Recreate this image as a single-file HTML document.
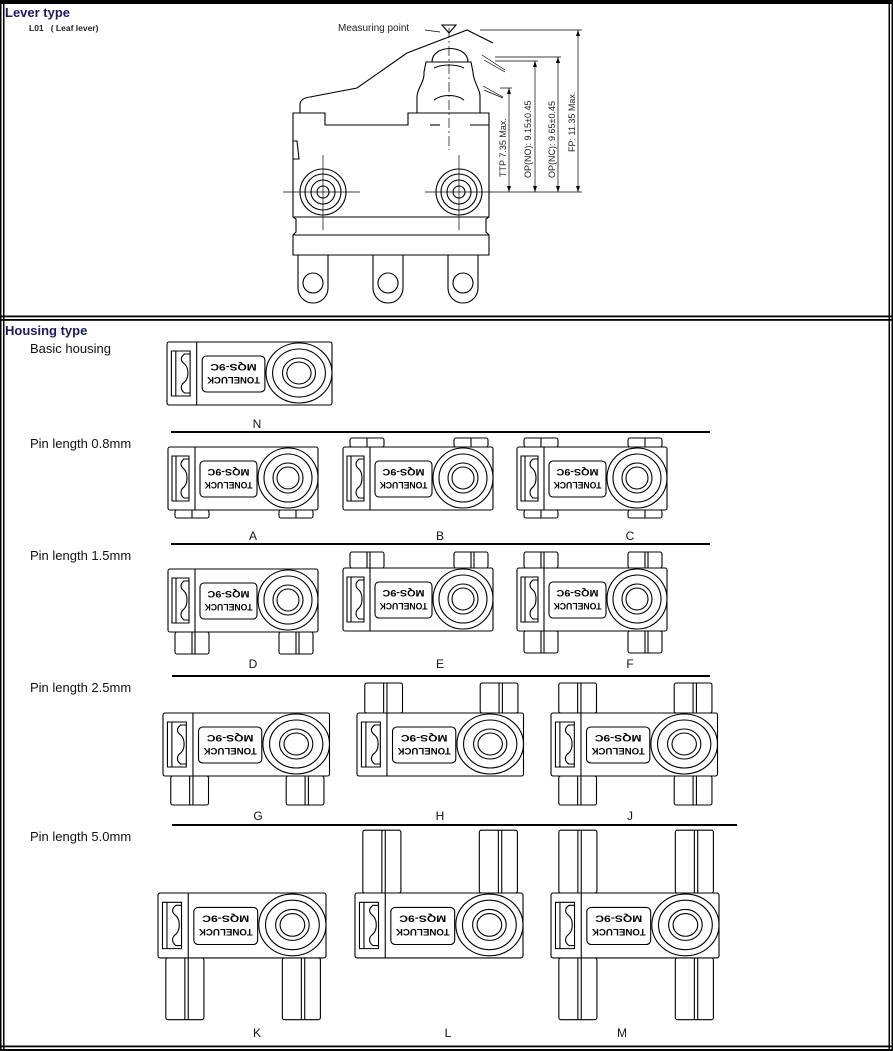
<!DOCTYPE html>
<html><head><meta charset="utf-8"><style>
html,body{margin:0;padding:0;background:#fff}
svg{display:block}
svg *{vector-effect:non-scaling-stroke}
.s{fill:none;stroke:#000;stroke-width:1.1}
.t{font-family:"Liberation Sans",sans-serif}
</style></head><body>
<svg width="893" height="1051" viewBox="0 0 893 1051" xmlns="http://www.w3.org/2000/svg">
<rect x="0" y="0" width="893" height="1051" fill="#fff"/>
<!-- frame -->
<rect x="0" y="0" width="893" height="4" fill="#000"/>
<rect x="0" y="0" width="1.5" height="1051" fill="#000"/>
<rect x="3" y="0" width="1.5" height="1051" fill="#000"/>
<rect x="888.5" y="0" width="1.5" height="1051" fill="#000"/>
<rect x="891.5" y="0" width="1.5" height="1051" fill="#000"/>
<rect x="0" y="315.5" width="893" height="1.8" fill="#000"/>
<rect x="0" y="319" width="893" height="1.8" fill="#000"/>
<rect x="0" y="1045.5" width="893" height="1.8" fill="#000"/>
<rect x="0" y="1049" width="893" height="2" fill="#000"/>

<text class="t" x="5" y="17" font-size="13" font-weight="bold" fill="#1e1a60">Lever type</text>
<text class="t" x="29" y="31" font-size="8.5" font-weight="bold" fill="#222" xml:space="preserve">L01   ( Leaf lever)</text>
<text class="t" x="5" y="335" font-size="13" font-weight="bold" fill="#1e1a60">Housing type</text>
<text class="t" x="30" y="353" font-size="13" fill="#111">Basic housing</text>
<text class="t" x="30" y="448" font-size="13" fill="#111">Pin length 0.8mm</text>
<text class="t" x="30" y="560" font-size="13" fill="#111">Pin length 1.5mm</text>
<text class="t" x="30" y="692" font-size="13" fill="#111">Pin length 2.5mm</text>
<text class="t" x="30" y="841" font-size="13" fill="#111">Pin length 5.0mm</text>

<!-- top drawing -->
<g class="s">
<path d="M293,113 L325,113 L325,125 L408,125 L408,113 L489,113 L489,217 L486,219 L486,232 L489,235 L489,255 L293,255 L293,235 L296,232 L296,219 L293,217 Z"/>
<line x1="293" y1="217" x2="489" y2="217"/>
<line x1="293" y1="235" x2="489" y2="235"/>
<line x1="430" y1="125" x2="440" y2="125"/><line x1="470" y1="125" x2="489" y2="125"/>
<path d="M293,141 l4,0 l2,18 l-6,0"/>
<path d="M417,113 L417,97 C417,88 425,82 424,72 L426,62 L471,62 L473,72 C473,82 481,90 480,98 L480,113"/>
<path d="M432,62 C432,44 468,44 468,62"/>
<path d="M434,68 C442,64 456,64 464,68"/><path d="M434,100 C442,94 456,94 464,100"/>
<path d="M300,113 L300,104 Q301,98 310,97 L357,88 L407,53 L467,30 L493,43"/>
<path d="M482,55 L505,70 M484,60 L505,72 M483,86 L503,97 M484,90 L503,98" stroke-width="0.7"/>
<path d="M298,255 L298,288 A15,15 0 0 0 328,288 L328,255 M373,255 L373,288 A15,15 0 0 0 403,288 L403,255 M448,255 L448,288 A15,15 0 0 0 478,288 L478,255"/>
<circle cx="313" cy="283" r="10"/><circle cx="388" cy="283" r="10"/><circle cx="463" cy="283" r="10"/>
<circle cx="323" cy="192" r="23"/><circle cx="323" cy="192" r="18"/><circle cx="323" cy="192" r="12"/><circle cx="323" cy="192" r="6"/>
<circle cx="459" cy="192" r="23"/><circle cx="459" cy="192" r="18"/><circle cx="459" cy="192" r="12"/><circle cx="459" cy="192" r="6"/>
<g stroke-width="0.7">
<line x1="283" y1="192" x2="360" y2="192"/><line x1="323" y1="155" x2="323" y2="230"/>
<line x1="425" y1="192" x2="582" y2="192"/><line x1="459" y1="155" x2="459" y2="230"/>
<line x1="449" y1="28" x2="449" y2="150" stroke-dasharray="10,3,2,3"/>
<line x1="500" y1="88" x2="512" y2="88"/><line x1="495" y1="61" x2="538" y2="61"/>
<line x1="495" y1="57" x2="561" y2="57"/><line x1="480" y1="30" x2="582" y2="30"/>
<line x1="509" y1="88" x2="509" y2="192"/><line x1="535" y1="61" x2="535" y2="192"/>
<line x1="558" y1="57" x2="558" y2="192"/><line x1="578" y1="30" x2="578" y2="192"/>
<path d="M425,30 L440,32"/>
</g>
<path d="M442,25 L456,25 L449,33 Z"/>
</g>
<g fill="#000">
<path d="M509,88 l-2,6 h4z M509,192 l-2,-6 h4z M535,61 l-2,6 h4z M535,192 l-2,-6 h4z M558,57 l-2,6 h4z M558,192 l-2,-6 h4z M578,30 l-2,6 h4z M578,192 l-2,-6 h4z"/>
</g>
<text class="t" x="338" y="31" font-size="10" fill="#222">Measuring point</text>
<g class="t" font-size="9" fill="#222">
<text transform="translate(506,177) rotate(-90)">TTP 7.35 Max.</text>
<text transform="translate(531,178) rotate(-90)">OP(NO): 9.15±0.45</text>
<text transform="translate(555,178) rotate(-90)">OP(NC): 9.65±0.45</text>
<text transform="translate(575,152) rotate(-90)">FP: 11.35 Max.</text>
</g>

<!-- separators -->
<g stroke="#000" stroke-width="2">
<line x1="171" y1="432" x2="710" y2="432"/>
<line x1="171" y1="544" x2="710" y2="544"/>
<line x1="172" y1="676" x2="710" y2="676"/>
<line x1="172" y1="825" x2="737" y2="825"/>
</g>

<!-- labels -->
<g class="t" font-size="12" fill="#111" text-anchor="middle">
<text x="257" y="428">N</text>
<text x="253" y="540">A</text><text x="440" y="540">B</text><text x="630" y="540">C</text>
<text x="253" y="668">D</text><text x="440" y="668">E</text><text x="630" y="668">F</text>
<text x="258" y="820">G</text><text x="440" y="820">H</text><text x="630" y="820">J</text>
<text x="257" y="1037">K</text><text x="448" y="1037">L</text><text x="622" y="1037">M</text>
</g>

<!-- N -->
<g transform="translate(167,342) scale(1.1,1)">
<g class="s"><rect x="0" y="0" width="150" height="63" rx="2"/><line x1="27" y1="0" x2="27" y2="63"/><rect x="4" y="9" width="17" height="45"/><line x1="8" y1="9" x2="8" y2="54"/><path d="M21,12 h-5 c-4,3 -4,7 0,10 c4,4 4,14 0,18 c-4,3 -4,8 0,11 h5"/><rect x="32" y="14" width="57" height="36" rx="4"/><circle cx="120" cy="31" r="30"/><circle cx="120" cy="31" r="24"/><circle cx="120" cy="31" r="15"/><circle cx="120" cy="31" r="11"/></g>
<g transform="rotate(180,60.5,32)" class="t" font-size="9" font-weight="bold" text-anchor="middle"><text x="60.5" y="29" textLength="48" lengthAdjust="spacingAndGlyphs">TONELUCK</text><text x="60.5" y="42" textLength="42" lengthAdjust="spacingAndGlyphs">MQS-9C</text></g>
</g>

<!-- A -->
<g transform="translate(168,447)">
<g class="s"><rect x="7" y="63" width="34" height="8" rx="2"/><line x1="24" y1="63" x2="24" y2="71"/><rect x="111" y="63" width="34" height="8" rx="2"/><line x1="128" y1="63" x2="128" y2="71"/>
<rect x="0" y="0" width="150" height="63" rx="2" fill="#fff"/><line x1="27" y1="0" x2="27" y2="63"/><rect x="4" y="9" width="17" height="45"/><line x1="8" y1="9" x2="8" y2="54"/><path d="M21,12 h-5 c-4,3 -4,7 0,10 c4,4 4,14 0,18 c-4,3 -4,8 0,11 h5"/><rect x="32" y="14" width="57" height="36" rx="4"/><circle cx="120" cy="31" r="30"/><circle cx="120" cy="31" r="24"/><circle cx="120" cy="31" r="15"/><circle cx="120" cy="31" r="11"/></g>
<g transform="rotate(180,60.5,32)" class="t" font-size="9" font-weight="bold" text-anchor="middle"><text x="60.5" y="29" textLength="48" lengthAdjust="spacingAndGlyphs">TONELUCK</text><text x="60.5" y="42" textLength="42" lengthAdjust="spacingAndGlyphs">MQS-9C</text></g>
</g>
<!-- B -->
<g transform="translate(343,447)">
<g class="s"><rect x="7" y="-9" width="34" height="9" rx="2"/><line x1="24" y1="-9" x2="24" y2="0"/><rect x="111" y="-9" width="34" height="9" rx="2"/><line x1="128" y1="-9" x2="128" y2="0"/>
<rect x="0" y="0" width="150" height="63" rx="2" fill="#fff"/><line x1="27" y1="0" x2="27" y2="63"/><rect x="4" y="9" width="17" height="45"/><line x1="8" y1="9" x2="8" y2="54"/><path d="M21,12 h-5 c-4,3 -4,7 0,10 c4,4 4,14 0,18 c-4,3 -4,8 0,11 h5"/><rect x="32" y="14" width="57" height="36" rx="4"/><circle cx="120" cy="31" r="30"/><circle cx="120" cy="31" r="24"/><circle cx="120" cy="31" r="15"/><circle cx="120" cy="31" r="11"/></g>
<g transform="rotate(180,60.5,32)" class="t" font-size="9" font-weight="bold" text-anchor="middle"><text x="60.5" y="29" textLength="48" lengthAdjust="spacingAndGlyphs">TONELUCK</text><text x="60.5" y="42" textLength="42" lengthAdjust="spacingAndGlyphs">MQS-9C</text></g>
</g>
<!-- C -->
<g transform="translate(517,447)">
<g class="s"><rect x="7" y="-9" width="34" height="9" rx="2"/><line x1="24" y1="-9" x2="24" y2="0"/><rect x="111" y="-9" width="34" height="9" rx="2"/><line x1="128" y1="-9" x2="128" y2="0"/><rect x="7" y="63" width="34" height="8" rx="2"/><line x1="24" y1="63" x2="24" y2="71"/><rect x="111" y="63" width="34" height="8" rx="2"/><line x1="128" y1="63" x2="128" y2="71"/>
<rect x="0" y="0" width="150" height="63" rx="2" fill="#fff"/><line x1="27" y1="0" x2="27" y2="63"/><rect x="4" y="9" width="17" height="45"/><line x1="8" y1="9" x2="8" y2="54"/><path d="M21,12 h-5 c-4,3 -4,7 0,10 c4,4 4,14 0,18 c-4,3 -4,8 0,11 h5"/><rect x="32" y="14" width="57" height="36" rx="4"/><circle cx="120" cy="31" r="30"/><circle cx="120" cy="31" r="24"/><circle cx="120" cy="31" r="15"/><circle cx="120" cy="31" r="11"/></g>
<g transform="rotate(180,60.5,32)" class="t" font-size="9" font-weight="bold" text-anchor="middle"><text x="60.5" y="29" textLength="48" lengthAdjust="spacingAndGlyphs">TONELUCK</text><text x="60.5" y="42" textLength="42" lengthAdjust="spacingAndGlyphs">MQS-9C</text></g>
</g>

<!-- D -->
<g transform="translate(168,569)">
<g class="s"><rect x="7" y="63" width="34" height="22" rx="2"/><line x1="24" y1="63" x2="24" y2="85"/><line x1="27" y1="63" x2="27" y2="85"/><rect x="111" y="63" width="34" height="22" rx="2"/><line x1="128" y1="63" x2="128" y2="85"/><line x1="131" y1="63" x2="131" y2="85"/>
<rect x="0" y="0" width="150" height="63" rx="2" fill="#fff"/><line x1="27" y1="0" x2="27" y2="63"/><rect x="4" y="9" width="17" height="45"/><line x1="8" y1="9" x2="8" y2="54"/><path d="M21,12 h-5 c-4,3 -4,7 0,10 c4,4 4,14 0,18 c-4,3 -4,8 0,11 h5"/><rect x="32" y="14" width="57" height="36" rx="4"/><circle cx="120" cy="31" r="30"/><circle cx="120" cy="31" r="24"/><circle cx="120" cy="31" r="15"/><circle cx="120" cy="31" r="11"/></g>
<g transform="rotate(180,60.5,32)" class="t" font-size="9" font-weight="bold" text-anchor="middle"><text x="60.5" y="29" textLength="48" lengthAdjust="spacingAndGlyphs">TONELUCK</text><text x="60.5" y="42" textLength="42" lengthAdjust="spacingAndGlyphs">MQS-9C</text></g>
</g>
<!-- E -->
<g transform="translate(343,568)">
<g class="s"><rect x="7" y="-16" width="34" height="16" rx="2"/><line x1="24" y1="-16" x2="24" y2="0"/><line x1="27" y1="-16" x2="27" y2="0"/><rect x="111" y="-16" width="34" height="16" rx="2"/><line x1="128" y1="-16" x2="128" y2="0"/><line x1="131" y1="-16" x2="131" y2="0"/>
<rect x="0" y="0" width="150" height="63" rx="2" fill="#fff"/><line x1="27" y1="0" x2="27" y2="63"/><rect x="4" y="9" width="17" height="45"/><line x1="8" y1="9" x2="8" y2="54"/><path d="M21,12 h-5 c-4,3 -4,7 0,10 c4,4 4,14 0,18 c-4,3 -4,8 0,11 h5"/><rect x="32" y="14" width="57" height="36" rx="4"/><circle cx="120" cy="31" r="30"/><circle cx="120" cy="31" r="24"/><circle cx="120" cy="31" r="15"/><circle cx="120" cy="31" r="11"/></g>
<g transform="rotate(180,60.5,32)" class="t" font-size="9" font-weight="bold" text-anchor="middle"><text x="60.5" y="29" textLength="48" lengthAdjust="spacingAndGlyphs">TONELUCK</text><text x="60.5" y="42" textLength="42" lengthAdjust="spacingAndGlyphs">MQS-9C</text></g>
</g>
<!-- F -->
<g transform="translate(517,568)">
<g class="s"><rect x="7" y="-16" width="34" height="16" rx="2"/><line x1="24" y1="-16" x2="24" y2="0"/><line x1="27" y1="-16" x2="27" y2="0"/><rect x="111" y="-16" width="34" height="16" rx="2"/><line x1="128" y1="-16" x2="128" y2="0"/><line x1="131" y1="-16" x2="131" y2="0"/><rect x="7" y="63" width="34" height="22" rx="2"/><line x1="24" y1="63" x2="24" y2="85"/><line x1="27" y1="63" x2="27" y2="85"/><rect x="111" y="63" width="34" height="22" rx="2"/><line x1="128" y1="63" x2="128" y2="85"/><line x1="131" y1="63" x2="131" y2="85"/>
<rect x="0" y="0" width="150" height="63" rx="2" fill="#fff"/><line x1="27" y1="0" x2="27" y2="63"/><rect x="4" y="9" width="17" height="45"/><line x1="8" y1="9" x2="8" y2="54"/><path d="M21,12 h-5 c-4,3 -4,7 0,10 c4,4 4,14 0,18 c-4,3 -4,8 0,11 h5"/><rect x="32" y="14" width="57" height="36" rx="4"/><circle cx="120" cy="31" r="30"/><circle cx="120" cy="31" r="24"/><circle cx="120" cy="31" r="15"/><circle cx="120" cy="31" r="11"/></g>
<g transform="rotate(180,60.5,32)" class="t" font-size="9" font-weight="bold" text-anchor="middle"><text x="60.5" y="29" textLength="48" lengthAdjust="spacingAndGlyphs">TONELUCK</text><text x="60.5" y="42" textLength="42" lengthAdjust="spacingAndGlyphs">MQS-9C</text></g>
</g>

<!-- G -->
<g transform="translate(163,713) scale(1.11,1)">
<g class="s"><rect x="7" y="63" width="34" height="29" rx="2"/><line x1="24" y1="63" x2="24" y2="92"/><line x1="27" y1="63" x2="27" y2="92"/><rect x="111" y="63" width="34" height="29" rx="2"/><line x1="128" y1="63" x2="128" y2="92"/><line x1="131" y1="63" x2="131" y2="92"/>
<rect x="0" y="0" width="150" height="63" rx="2" fill="#fff"/><line x1="27" y1="0" x2="27" y2="63"/><rect x="4" y="9" width="17" height="45"/><line x1="8" y1="9" x2="8" y2="54"/><path d="M21,12 h-5 c-4,3 -4,7 0,10 c4,4 4,14 0,18 c-4,3 -4,8 0,11 h5"/><rect x="32" y="14" width="57" height="36" rx="4"/><circle cx="120" cy="31" r="30"/><circle cx="120" cy="31" r="24"/><circle cx="120" cy="31" r="15"/><circle cx="120" cy="31" r="11"/></g>
<g transform="rotate(180,60.5,32)" class="t" font-size="9" font-weight="bold" text-anchor="middle"><text x="60.5" y="29" textLength="48" lengthAdjust="spacingAndGlyphs">TONELUCK</text><text x="60.5" y="42" textLength="42" lengthAdjust="spacingAndGlyphs">MQS-9C</text></g>
</g>
<!-- H -->
<g transform="translate(357,713) scale(1.11,1)">
<g class="s"><rect x="7" y="-30" width="34" height="30" rx="2"/><line x1="24" y1="-30" x2="24" y2="0"/><line x1="27" y1="-30" x2="27" y2="0"/><rect x="111" y="-30" width="34" height="30" rx="2"/><line x1="128" y1="-30" x2="128" y2="0"/><line x1="131" y1="-30" x2="131" y2="0"/>
<rect x="0" y="0" width="150" height="63" rx="2" fill="#fff"/><line x1="27" y1="0" x2="27" y2="63"/><rect x="4" y="9" width="17" height="45"/><line x1="8" y1="9" x2="8" y2="54"/><path d="M21,12 h-5 c-4,3 -4,7 0,10 c4,4 4,14 0,18 c-4,3 -4,8 0,11 h5"/><rect x="32" y="14" width="57" height="36" rx="4"/><circle cx="120" cy="31" r="30"/><circle cx="120" cy="31" r="24"/><circle cx="120" cy="31" r="15"/><circle cx="120" cy="31" r="11"/></g>
<g transform="rotate(180,60.5,32)" class="t" font-size="9" font-weight="bold" text-anchor="middle"><text x="60.5" y="29" textLength="48" lengthAdjust="spacingAndGlyphs">TONELUCK</text><text x="60.5" y="42" textLength="42" lengthAdjust="spacingAndGlyphs">MQS-9C</text></g>
</g>
<!-- J -->
<g transform="translate(551,713) scale(1.11,1)">
<g class="s"><rect x="7" y="-30" width="34" height="30" rx="2"/><line x1="24" y1="-30" x2="24" y2="0"/><line x1="27" y1="-30" x2="27" y2="0"/><rect x="111" y="-30" width="34" height="30" rx="2"/><line x1="128" y1="-30" x2="128" y2="0"/><line x1="131" y1="-30" x2="131" y2="0"/><rect x="7" y="63" width="34" height="29" rx="2"/><line x1="24" y1="63" x2="24" y2="92"/><line x1="27" y1="63" x2="27" y2="92"/><rect x="111" y="63" width="34" height="29" rx="2"/><line x1="128" y1="63" x2="128" y2="92"/><line x1="131" y1="63" x2="131" y2="92"/>
<rect x="0" y="0" width="150" height="63" rx="2" fill="#fff"/><line x1="27" y1="0" x2="27" y2="63"/><rect x="4" y="9" width="17" height="45"/><line x1="8" y1="9" x2="8" y2="54"/><path d="M21,12 h-5 c-4,3 -4,7 0,10 c4,4 4,14 0,18 c-4,3 -4,8 0,11 h5"/><rect x="32" y="14" width="57" height="36" rx="4"/><circle cx="120" cy="31" r="30"/><circle cx="120" cy="31" r="24"/><circle cx="120" cy="31" r="15"/><circle cx="120" cy="31" r="11"/></g>
<g transform="rotate(180,60.5,32)" class="t" font-size="9" font-weight="bold" text-anchor="middle"><text x="60.5" y="29" textLength="48" lengthAdjust="spacingAndGlyphs">TONELUCK</text><text x="60.5" y="42" textLength="42" lengthAdjust="spacingAndGlyphs">MQS-9C</text></g>
</g>

<!-- K -->
<g transform="translate(158,893) scale(1.12,1.03)">
<g class="s"><rect x="7" y="63" width="34" height="60" rx="2"/><line x1="24" y1="63" x2="24" y2="123"/><line x1="27" y1="63" x2="27" y2="123"/><rect x="111" y="63" width="34" height="60" rx="2"/><line x1="128" y1="63" x2="128" y2="123"/><line x1="131" y1="63" x2="131" y2="123"/>
<rect x="0" y="0" width="150" height="63" rx="2" fill="#fff"/><line x1="27" y1="0" x2="27" y2="63"/><rect x="4" y="9" width="17" height="45"/><line x1="8" y1="9" x2="8" y2="54"/><path d="M21,12 h-5 c-4,3 -4,7 0,10 c4,4 4,14 0,18 c-4,3 -4,8 0,11 h5"/><rect x="32" y="14" width="57" height="36" rx="4"/><circle cx="120" cy="31" r="30"/><circle cx="120" cy="31" r="24"/><circle cx="120" cy="31" r="15"/><circle cx="120" cy="31" r="11"/></g>
<g transform="rotate(180,60.5,32)" class="t" font-size="9" font-weight="bold" text-anchor="middle"><text x="60.5" y="29" textLength="48" lengthAdjust="spacingAndGlyphs">TONELUCK</text><text x="60.5" y="42" textLength="42" lengthAdjust="spacingAndGlyphs">MQS-9C</text></g>
</g>
<!-- L -->
<g transform="translate(355,893) scale(1.12,1.03)">
<g class="s"><rect x="7" y="-61" width="34" height="61" rx="2"/><line x1="24" y1="-61" x2="24" y2="0"/><line x1="27" y1="-61" x2="27" y2="0"/><rect x="111" y="-61" width="34" height="61" rx="2"/><line x1="128" y1="-61" x2="128" y2="0"/><line x1="131" y1="-61" x2="131" y2="0"/>
<rect x="0" y="0" width="150" height="63" rx="2" fill="#fff"/><line x1="27" y1="0" x2="27" y2="63"/><rect x="4" y="9" width="17" height="45"/><line x1="8" y1="9" x2="8" y2="54"/><path d="M21,12 h-5 c-4,3 -4,7 0,10 c4,4 4,14 0,18 c-4,3 -4,8 0,11 h5"/><rect x="32" y="14" width="57" height="36" rx="4"/><circle cx="120" cy="31" r="30"/><circle cx="120" cy="31" r="24"/><circle cx="120" cy="31" r="15"/><circle cx="120" cy="31" r="11"/></g>
<g transform="rotate(180,60.5,32)" class="t" font-size="9" font-weight="bold" text-anchor="middle"><text x="60.5" y="29" textLength="48" lengthAdjust="spacingAndGlyphs">TONELUCK</text><text x="60.5" y="42" textLength="42" lengthAdjust="spacingAndGlyphs">MQS-9C</text></g>
</g>
<!-- M -->
<g transform="translate(551,893) scale(1.12,1.03)">
<g class="s"><rect x="7" y="-61" width="34" height="61" rx="2"/><line x1="24" y1="-61" x2="24" y2="0"/><line x1="27" y1="-61" x2="27" y2="0"/><rect x="111" y="-61" width="34" height="61" rx="2"/><line x1="128" y1="-61" x2="128" y2="0"/><line x1="131" y1="-61" x2="131" y2="0"/><rect x="7" y="63" width="34" height="60" rx="2"/><line x1="24" y1="63" x2="24" y2="123"/><line x1="27" y1="63" x2="27" y2="123"/><rect x="111" y="63" width="34" height="60" rx="2"/><line x1="128" y1="63" x2="128" y2="123"/><line x1="131" y1="63" x2="131" y2="123"/>
<rect x="0" y="0" width="150" height="63" rx="2" fill="#fff"/><line x1="27" y1="0" x2="27" y2="63"/><rect x="4" y="9" width="17" height="45"/><line x1="8" y1="9" x2="8" y2="54"/><path d="M21,12 h-5 c-4,3 -4,7 0,10 c4,4 4,14 0,18 c-4,3 -4,8 0,11 h5"/><rect x="32" y="14" width="57" height="36" rx="4"/><circle cx="120" cy="31" r="30"/><circle cx="120" cy="31" r="24"/><circle cx="120" cy="31" r="15"/><circle cx="120" cy="31" r="11"/></g>
<g transform="rotate(180,60.5,32)" class="t" font-size="9" font-weight="bold" text-anchor="middle"><text x="60.5" y="29" textLength="48" lengthAdjust="spacingAndGlyphs">TONELUCK</text><text x="60.5" y="42" textLength="42" lengthAdjust="spacingAndGlyphs">MQS-9C</text></g>
</g>
</svg>
</body></html>
